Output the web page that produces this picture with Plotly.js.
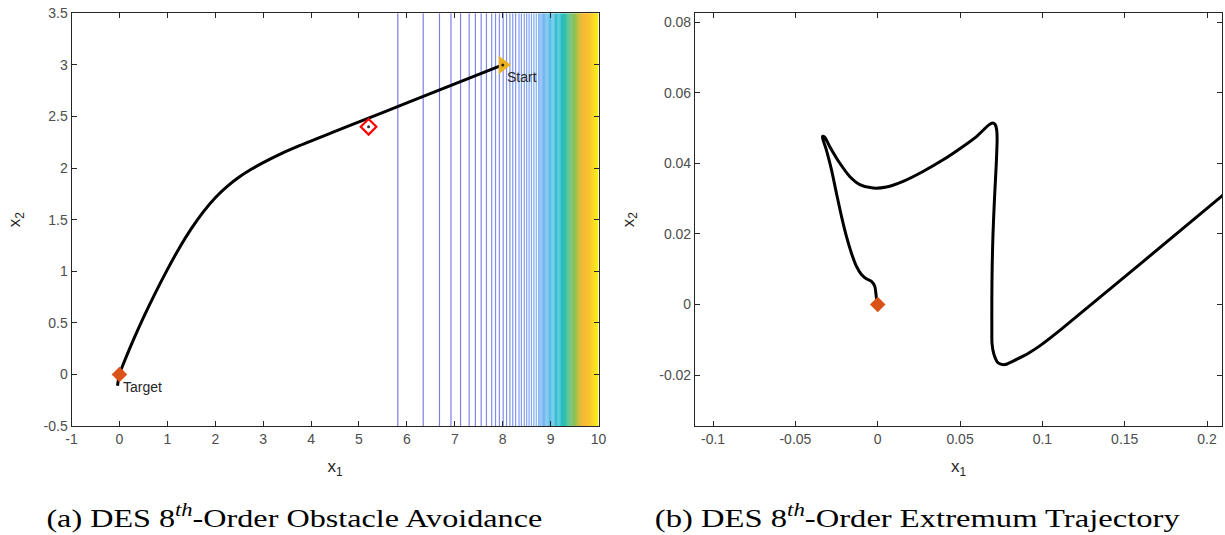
<!DOCTYPE html>
<html>
<head>
<meta charset="utf-8">
<script src="https://cdn.plot.ly/plotly-3.0.1.min.js"></script>
<style>
  html, body { margin: 0; padding: 0; background: #fff; }
  #chart { width: 1225px; height: 535px; }
</style>
</head>
<body>
<div id="chart"></div>
<script>
// Obstacle cost field: x1 position of each contour level (field is constant in x2)
const fieldX1 = [-1, 5.81, 6.34, 6.68, 6.92, 7.12, 7.30, 7.43, 7.55, 7.66, 7.77, 7.85, 7.93,
                 8.01, 8.08, 8.15, 8.21, 8.27, 8.34, 8.39, 8.45, 8.50, 8.55, 8.60, 8.65,
                 8.70, 8.75, 9.0, 9.25, 9.5, 9.75, 10];
const fieldLevel = [-1, 0, 1, 2, 3, 4, 5, 6, 7, 8, 9, 10, 11, 12, 13, 14, 15, 16, 17, 18,
                    19, 20, 21, 22, 23, 24, 25, 35, 45, 58, 75, 96];
const fieldX2 = [-0.5, 3.5];

// Full trajectory from start to target (panel a)
const trajX1 = [8.0, 7.0, 6.0, 5.0, 4.5, 3.77, 3.4, 3.0, 2.75, 2.5, 2.25, 2.0, 1.75, 1.5,
                1.25, 1.0, 0.75, 0.5, 0.3, 0.15, 0.0, -0.04];
const trajX2 = [3.0, 2.816, 2.632, 2.448, 2.356, 2.22, 2.145, 2.053, 1.988, 1.913, 1.823,
                1.713, 1.576, 1.413, 1.226, 1.016, 0.791, 0.551, 0.345, 0.18, 0.0, -0.11];

const startPt = [8, 3];
const targetPt = [0, 0];
const obstaclePt = [5.2, 2.4];

// Extremum trajectory close to the target (panel b)
const extX1 = [0.0, -0.0008, -0.0018, -0.0038, -0.0069, -0.0099, -0.0129, -0.016, -0.019,
               -0.022, -0.0251, -0.0281, -0.0312, -0.0336, -0.0322, -0.0292, -0.0231, -0.017,
               -0.0109, -0.0028, 0.0053, 0.0154, 0.0275, 0.0397, 0.0518, 0.0600, 0.0645,
               0.0675, 0.0697, 0.0713, 0.0722, 0.0725, 0.0720, 0.0709, 0.0700, 0.0695, 0.0693,
               0.0693, 0.0694, 0.0705, 0.0731, 0.0772, 0.0822, 0.0883, 0.0925, 0.0984, 0.1106,
               0.2091, 0.22];
const extX2 = [0.0, 0.0019, 0.0052, 0.0066, 0.0073, 0.0085, 0.0108, 0.0146, 0.0193, 0.025,
               0.0316, 0.0382, 0.0438, 0.0476, 0.0474, 0.0448, 0.0401, 0.0363, 0.034, 0.033,
               0.0333, 0.0349, 0.0377, 0.041, 0.0448, 0.0476, 0.0496, 0.0509, 0.0514, 0.0510,
               0.0496, 0.0470, 0.0400, 0.0300, 0.0200, 0.0108, 0.0014, -0.008, -0.0110, -0.0140,
               -0.0165, -0.017, -0.016, -0.0146, -0.0135, -0.0117, -0.0073, 0.0308, 0.0350];

// Tick labels
const aTicksX = [-1, 0, 1, 2, 3, 4, 5, 6, 7, 8, 9, 10];
const aTicksY = [-0.5, 0, 0.5, 1, 1.5, 2, 2.5, 3, 3.5];
const bTicksX = [-0.1, -0.05, 0, 0.05, 0.1, 0.15, 0.2];
const bTicksY = [-0.02, 0, 0.02, 0.04, 0.06, 0.08];

const captionA = '(a) DES 8<sup><i>th</i></sup>-Order Obstacle Avoidance';
const captionB = '(b) DES 8<sup><i>th</i></sup>-Order Extremum Trajectory';

// Parula-like ramp, lightened at the low end where the contour lines are thin
const lineScale = [
  [0.00, 'rgb(128,122,226)'], [0.15, 'rgb(125,148,240)'], [0.27, 'rgb(128,178,245)'],
  [0.36, 'rgb(90,190,232)'], [0.45, 'rgb(35,188,200)'], [0.50, 'rgb(50,190,170)'],
  [0.55, 'rgb(90,192,120)'], [0.62, 'rgb(150,192,75)'], [0.68, 'rgb(215,188,55)'],
  [0.75, 'rgb(250,183,50)'], [0.85, 'rgb(250,200,45)'], [0.93, 'rgb(248,222,35)'],
  [1.00, 'rgb(247,240,25)']
];

const fmt = v => String(v); // plain hyphen-minus labels
const axisInk = '#262626';
const tickFont = { family: 'Liberation Sans, Arial, sans-serif', size: 14, color: '#4d4d4d' };
const labelFont = { family: 'Liberation Sans, Arial, sans-serif', size: 17, color: axisInk };

function axis(domain, range, ticks, anchor, title, standoff) {
  return {
    domain: domain, range: range, anchor: anchor,
    tickmode: 'array', tickvals: ticks, ticktext: ticks.map(fmt),
    ticks: 'inside', ticklen: 5, tickwidth: 1, tickcolor: axisInk,
    showline: true, linecolor: axisInk, linewidth: 1, mirror: 'ticks',
    showgrid: false, zeroline: false, tickfont: tickFont,
    title: { text: title, font: labelFont, standoff: standoff },
    automargin: false,
    fixedrange: true
  };
}

const fieldZ = fieldX2.map(() => fieldLevel.slice());

const traces = [
  {
    type: 'contour', x: fieldX1, y: fieldX2, z: fieldZ,
    xaxis: 'x', yaxis: 'y',
    autocontour: false,
    contours: { start: 0, end: 96, size: 1, coloring: 'lines' },
    colorscale: lineScale, zauto: false, zmin: 0, zmax: 96,
    line: { width: 1.2, smoothing: 0 },
    showscale: false, hoverinfo: 'skip'
  },
  {
    type: 'scatter', mode: 'lines', x: trajX1, y: trajX2, xaxis: 'x', yaxis: 'y',
    line: { color: '#000', width: 3, shape: 'spline', smoothing: 0.8 }, hoverinfo: 'skip'
  },
  {
    type: 'scatter', mode: 'markers', x: [startPt[0]], y: [startPt[1]], xaxis: 'x', yaxis: 'y',
    marker: { symbol: 'triangle-right', size: 16, color: 'rgb(237,177,32)' }, hoverinfo: 'skip'
  },
  {
    type: 'scatter', mode: 'markers', x: [startPt[0]], y: [startPt[1]], xaxis: 'x', yaxis: 'y',
    marker: { symbol: 'circle', size: 3, color: '#222' }, hoverinfo: 'skip'
  },
  {
    type: 'scatter', mode: 'markers', x: [obstaclePt[0]], y: [obstaclePt[1]], xaxis: 'x', yaxis: 'y',
    marker: { symbol: 'diamond-open', size: 12, color: 'rgb(255,0,0)', line: { width: 2.2, color: 'rgb(255,0,0)' } },
    hoverinfo: 'skip'
  },
  {
    type: 'scatter', mode: 'markers', x: [obstaclePt[0]], y: [obstaclePt[1]], xaxis: 'x', yaxis: 'y',
    marker: { symbol: 'circle', size: 3, color: '#333' }, hoverinfo: 'skip'
  },
  {
    type: 'scatter', mode: 'markers', x: [targetPt[0]], y: [targetPt[1]], xaxis: 'x', yaxis: 'y',
    marker: { symbol: 'diamond', size: 12, color: 'rgb(217,83,25)' }, hoverinfo: 'skip'
  },
  {
    type: 'scatter', mode: 'lines', x: extX1, y: extX2, xaxis: 'x2', yaxis: 'y2',
    line: { color: '#000', width: 3, shape: 'spline', smoothing: 0.8 }, hoverinfo: 'skip'
  },
  {
    type: 'scatter', mode: 'markers', x: [targetPt[0]], y: [targetPt[1]], xaxis: 'x2', yaxis: 'y2',
    marker: { symbol: 'diamond', size: 12, color: 'rgb(217,83,25)' }, hoverinfo: 'skip'
  }
];

const pointFont = { family: 'Liberation Sans, Arial, sans-serif', size: 14, color: axisInk };
const captionFont = { family: 'Liberation Serif, Times New Roman, serif', size: 26, color: '#000' };
// Printed widths of the two sub-figure captions, in pixels
const captionWidths = { '(a)': 496, '(b)': 525 };

const layout = {
  width: 1225, height: 535,
  margin: { l: 0, r: 0, t: 0, b: 0 },
  paper_bgcolor: '#fff', plot_bgcolor: '#fff',
  showlegend: false,
  xaxis: axis([0.0584, 0.4886], [-1, 10], aTicksX, 'y', 'x<sub>1</sub>', 14),
  yaxis: axis([0.2037, 0.9751], [-0.5, 3.5], aTicksY, 'x', 'x<sub>2</sub>', 18),
  xaxis2: axis([0.5673, 0.9976], [-0.111, 0.2091], bTicksX, 'y2', 'x<sub>1</sub>', 14),
  yaxis2: axis([0.2037, 0.9751], [-0.0344, 0.0825], bTicksY, 'x2', 'x<sub>2</sub>', 20),
  annotations: [
    { xref: 'x', yref: 'y', x: 8.05, y: 2.88, text: 'Start', showarrow: false,
      xanchor: 'left', yanchor: 'middle', font: pointFont },
    { xref: 'x', yref: 'y', x: 0.04, y: -0.12, text: 'Target', showarrow: false,
      xanchor: 'left', yanchor: 'middle', font: pointFont },
    { xref: 'paper', yref: 'paper', x: 0.2408, y: 0.034, text: captionA, showarrow: false,
      xanchor: 'center', yanchor: 'middle', font: captionFont },
    { xref: 'paper', yref: 'paper', x: 0.749, y: 0.034, text: captionB, showarrow: false,
      xanchor: 'center', yanchor: 'middle', font: captionFont }
  ]
};

Plotly.newPlot('chart', traces, layout, { staticPlot: true, displayModeBar: false }).then(gd => {
  // widen the serif captions to their printed width, keeping them centred
  gd.querySelectorAll('.annotation-text').forEach(el => {
    const key = el.textContent.slice(0, 3);
    const target = captionWidths[key];
    if (!target) return;
    const bb = el.getBBox();
    const cx = bb.x + bb.width / 2;
    const s = target / bb.width;
    el.setAttribute('transform', `translate(${cx},0) scale(${s},1) translate(${-cx},0)`);
  });
});
</script>
</body>
</html>
